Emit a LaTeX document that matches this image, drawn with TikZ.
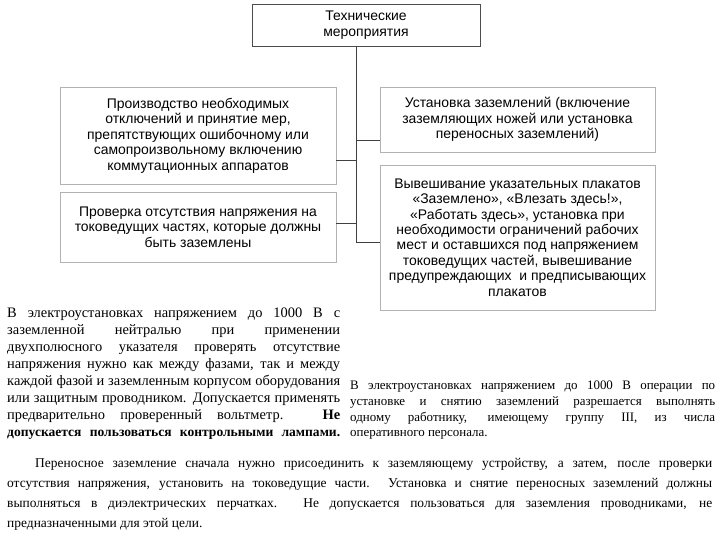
\documentclass[tikz,border=0pt]{standalone}
\usepackage{fontspec}
\setmainfont{Liberation Serif}
\newfontfamily\boxfont{Liberation Sans}
\begin{document}
\begin{tikzpicture}[x=1bp,y=-1bp,
  box/.style={draw=gray!60, line width=0.8bp, align=center, inner sep=0pt,
    font=\boxfont\fontsize{14}{15.5}\selectfont},
  conn/.style={draw=black!75, line width=0.8bp},
  para/.style={align=justify, inner sep=0pt, anchor=north west}]
\useasboundingbox (0,0) rectangle (720,540);
\fill[white] (0,0) rectangle (720,540);
\hyphenpenalty=10000
% boxes
\node[box, draw=black!70, minimum width=228bp, minimum height=42bp,
  font=\boxfont\fontsize{14}{16}\selectfont] (top) at (366,25)
  {Технические\\мероприятия};
\node[box, minimum width=276bp, minimum height=97bp] (l1) at (198,135.5)
  {Производство необходимых\\отключений и принятие мер,\\препятствующих ошибочному или\\самопроизвольному включению\\коммутационных аппаратов};
\node[box, minimum width=276bp, minimum height=70bp] (l2) at (198,227)
  {Проверка отсутствия напряжения на\\токоведущих частях, которые должны\\быть заземлены};
\node[box, minimum width=275bp, minimum height=65bp] (r1) at (517.5,119.5)
  {Установка заземлений (включение\\заземляющих ножей или установка\\переносных заземлений)};
\node[box, minimum width=275bp, minimum height=145bp] (r2) at (517.5,237.5)
  {Вывешивание указательных плакатов\\«Заземлено», «Влезать здесь!»,\\«Работать здесь», установка при\\необходимости ограничений рабочих\\мест и оставшихся под напряжением\\токоведущих частей, вывешивание\\предупреждающих\ \ и предписывающих\\плакатов};
% connectors
\coordinate (tb) at (356,242);
\coordinate (t1) at (356,160);
\coordinate (t2) at (356,223);
\coordinate (t3) at (356,140);
\draw[conn] (top.south -| tb) -- (tb) -- (tb -| r2.west);
\draw[conn] (t1) -- (t1 -| l1.east);
\draw[conn] (t2) -- (t2 -| l2.east);
\draw[conn] (t3) -- (t3 -| r1.west);
% paragraphs
\node[para, text width=333bp, font=\fontsize{14.5}{17}\selectfont] (pl) at (7,308)
  {\parfillskip=0pt В электроустановках напряжением до 1000 В с\linebreak
   заземленной нейтралью при применении\linebreak
   двухполюсного указателя проверять отсутствие\linebreak
   напряжения нужно как между фазами, так и между\linebreak
   каждой фазой и заземленным корпусом оборудования\linebreak
   или защитным проводником. Допускается применять\linebreak
   предварительно проверенный вольтметр. \textbf{Не}\linebreak
   \makebox[\linewidth][s]{\bfseries\fontsize{13.6}{17}\selectfont допускается пользоваться контрольными лампами.}};
\node[para, text width=365bp, font=\fontsize{13}{15.7}\selectfont] (pr) at (350,381)
  {В электроустановках напряжением до 1000 В операции по\linebreak
   установке и снятию заземлений разрешается выполнять\linebreak
   одному работнику, имеющему группу III, из числа\linebreak
   оперативного персонала.};
\node[para, text width=705bp, font=\fontsize{13.5}{20}\selectfont] (pb) at (7,458)
  {\hspace*{28bp}Переносное заземление сначала нужно присоединить к заземляющему устройству, а затем, после проверки\linebreak
   отсутствия напряжения, установить на токоведущие части. Установка и снятие переносных заземлений должны\linebreak
   выполняться в диэлектрических перчатках. Не допускается пользоваться для заземления проводниками, не\linebreak
   предназначенными для этой цели.};
\end{tikzpicture}
\end{document}
